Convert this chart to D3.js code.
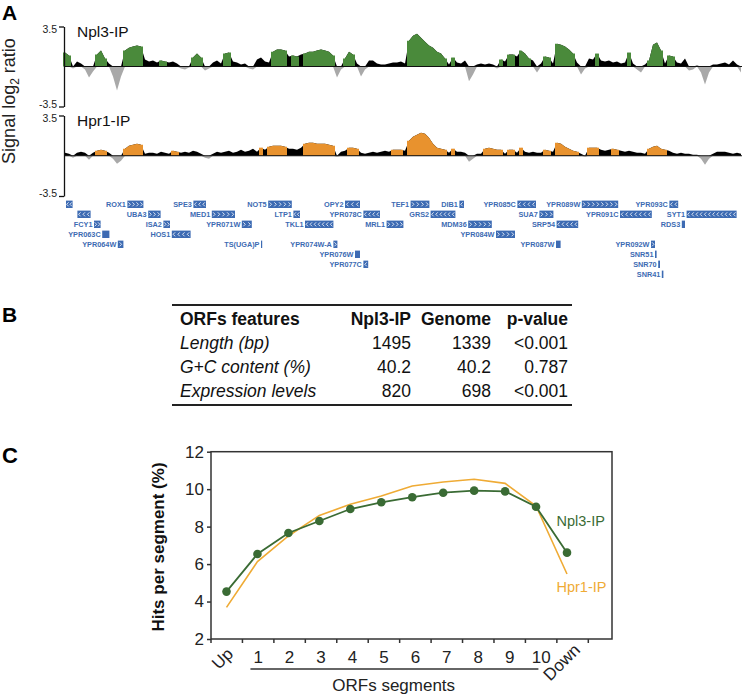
<!DOCTYPE html>
<html><head><meta charset="utf-8">
<script src="https://cdn.jsdelivr.net/npm/d3@7"></script>
<style>body{margin:0;background:#fff}svg{display:block;font-family:"Liberation Sans",Arial,sans-serif}</style>
</head><body><svg id="c" width="742" height="696"></svg>
<script>
// ---------- Panel A data (signal log2 ratio per genomic bin) ----------
const npl3Signal = [1.22,0.96,-0.17,0.43,0.26,-0.26,-0.96,-0.43,1.04,1.39,0.70,0.26,-0.87,-2.09,-0.87,1.39,1.65,1.74,1.83,1.74,
0.61,0.43,0.52,0.35,0.52,0.43,0.35,0.43,0.26,-0.17,-0.26,-0.09,0.78,1.13,0.78,-0.35,-0.17,0.35,0.52,0.26,
1.13,1.22,0.43,0.35,0.17,0.26,-0.17,-0.26,0.61,0.78,0.43,0.35,1.30,1.48,1.48,1.39,0.87,0.96,0.87,1.04,
1.13,1.30,1.30,1.39,1.48,1.39,1.30,0.96,-0.96,-0.26,0.70,1.30,1.04,0.26,-0.87,-0.26,0.52,0.52,0.26,0.17,
0.17,0.26,0.35,0.35,0.43,0.26,2.26,2.70,2.87,2.52,2.17,1.83,1.65,1.30,1.13,0.70,0.17,0.78,0.35,0.26,
0.52,-1.30,-0.70,0.17,0.26,0.17,0.26,0.17,-0.17,0.61,0.43,1.04,1.04,0.87,1.39,1.13,0.70,0.52,-0.52,0.26,
0.87,0.78,0.26,2.00,1.91,1.74,1.48,1.13,0.35,-0.70,-0.17,0.70,0.61,1.13,0.52,0.43,0.52,0.35,0.43,0.26,
0.35,1.22,0.26,-0.26,-0.52,0.17,0.52,1.91,2.09,1.39,0.26,0.96,0.87,0.35,0.26,0.70,-0.35,-0.26,0.09,-0.52,
-1.57,-0.52,0.17,0.17,0.26,0.35,0.17,0.52,0.17,-0.52];
const npl3Enriched = [[0,1],[8,10],[15,19],[24,25],[32,34],[40,41],[52,55],[57,58],[60,67],[70,72],[86,95],[97,97],
[109,109],[111,112],[114,116],[120,121],[123,127],[133,133],[141,141],[146,149],[151,152]];
const hpr1Signal = [0.26,0.17,-0.17,0.26,0.35,0.26,-0.35,0.26,0.43,0.52,0.43,0.26,-0.26,-0.70,-0.43,0.61,0.87,0.96,1.04,0.96,
0.17,0.26,0.26,0.17,0.35,0.26,0.17,0.43,0.35,0.26,0.35,0.26,0.43,0.35,0.17,-0.17,-0.26,0.17,0.35,0.26,
0.35,0.43,0.26,0.35,0.52,0.35,0.43,0.61,0.35,0.70,0.52,0.78,0.87,0.87,0.87,0.78,0.61,0.61,0.52,0.70,
1.04,1.13,1.13,1.04,1.04,1.04,0.96,0.87,-0.09,0.35,0.43,0.70,0.70,0.61,0.26,0.17,0.26,0.35,0.26,0.35,
0.43,0.35,0.52,0.52,0.52,0.43,1.30,1.65,1.83,2.00,1.91,1.57,1.04,0.70,0.61,0.52,0.26,0.61,0.35,0.35,
0.26,-0.52,-0.26,0.17,0.17,0.61,0.70,0.61,0.52,0.52,0.17,0.52,0.52,0.26,0.70,0.35,0.26,0.35,0.26,0.26,
0.52,0.43,0.35,1.13,1.04,0.78,0.61,0.43,0.35,0.17,-0.09,0.70,0.70,0.70,0.52,0.43,0.52,0.61,0.52,0.43,
0.35,0.43,0.35,0.26,0.26,0.17,0.61,0.78,0.87,0.61,0.52,0.43,0.26,0.17,0.26,0.17,0.17,0.09,0.09,-0.26,
-0.78,-0.26,0.17,0.35,0.35,0.35,0.26,0.17,0.26,0.17];
const hpr1Enriched = [[8,10],[15,19],[27,28],[49,49],[51,55],[60,67],[71,73],[82,84],[86,95],[97,97],[105,109],
[111,112],[114,114],[120,121],[123,128],[131,133],[137,138],[146,150]];
const trackTicks = [-3.5, 3.5];
// genes: [name, start, end, strand, row]  (positions in the same bin units as the signal)
const genes = [
["",0.25,1.9,"-",0],["ROX1",15.6,19.6,"+",0],["SPE3",32.1,35.25,"-",0],["NOT5",50.8,56.7,"+",0],["OPY2",70,73.75,"-",0],
["TEF1",86.4,91.1,"+",0],["DIB1",98.6,99.75,"-",0],["YPR085C",113.1,117.75,"-",0],["YPR089W",129.2,138.3,"+",0],["YPR093C",151.1,153.3,"-",0],
["",3.1,6.4,"-",1],["UBA3",20.8,23.9,"+",1],["MED1",36.7,42.5,"+",1],["LTP1",57.1,58.75,"-",1],["YPR078C",74.6,78.75,"-",1],
["GRS2",91.4,97.6,"-",1],["SUA7",118.6,122.1,"+",1],["YPR091C",138.75,146.7,"-",1],["SYT1",155.4,167.9,"-",1],
["FCY1",7.25,8.9,"+",2],["ISA2",24.6,26.25,"+",2],["YPR071W",44.2,46.7,"+",2],["TKL1",60,67.1,"-",2],["MRL1",80.4,84.6,"+",2],
["MDM36",100.8,106.7,"+",2],["SRP54",122.9,128.3,"-",2],["RDS3",154.2,155,"",2],
["YPR063C",9.3,11.1,"",3],["HOS1",26.7,31.4,"-",3],["YPR084W",107.75,112.5,"+",3],
["YPR064W",13.2,14.6,"+",4],["TS(UGA)P",49,49.3,"",4],["YPR074W-A",67.1,68.1,"+",4],["YPR087W",122.75,123.9,"",4],["YPR092W",146.5,147.5,"+",4],
["YPR076W",72.5,73.75,"",5],["SNR51",147.5,147.9,"",5],
["YPR077C",74.6,75.8,"-",6],["SNR70",148.3,148.75,"",6],
["SNR41",149.2,149.6,"",7]
];
// ---------- Panel B data ----------
const tableHeader = ["ORFs features","Npl3-IP","Genome","p-value"];
const tableRows = [["Length (bp)","1495","1339","<0.001"],["G+C content (%)","40.2","40.2","0.787"],["Expression levels","820","698","<0.001"]];
// ---------- Panel C data ----------
const segments = ["Up","1","2","3","4","5","6","7","8","9","10","Down"];
const npl3Hits = [4.53,6.54,7.66,8.30,8.94,9.30,9.57,9.81,9.92,9.88,9.06,6.61];
const hpr1Hits = [3.69,6.13,7.50,8.60,9.19,9.63,10.17,10.38,10.53,10.31,9.10,5.47];
const hitsTicks = [2,4,6,8,10,12];

const svg = d3.select('#c');
const GREEN = '#4a8a3b', ORANGE = '#e8922e', GRAY = '#a9a9a9', BLUE = '#3d6bb3';

// ================= Panel A =================
svg.append('text').attr('x',2).attr('y',20).attr('font-size',21).attr('font-weight','bold').text('A');
const sl = svg.append('text').attr('transform','translate(14.5,101) rotate(-90)').attr('text-anchor','middle').attr('font-size',18).attr('fill','#222');
sl.append('tspan').text('Signal log');
sl.append('tspan').text('2').attr('font-size',12).attr('dy',4);
sl.append('tspan').text(' ratio').attr('dy',-4);

const xA = d3.scaleLinear().domain([0, npl3Signal.length]).range([65, 745]);

function drawTrack(sig, enr, color, yRange, label) {
  const y = d3.scaleLinear().domain([-3.5, 3.5]).range(yRange);
  const g = svg.append('g');
  const pts = sig.map((v,i)=>[i,v]);
  const area = d3.area().x(d=>xA(d[0])).y0(y(0));
  g.append('path').attr('d', area.y1(d=>y(Math.max(0,d[1])))(pts)).attr('fill','#000');
  g.append('path').attr('d', area.y1(d=>y(Math.min(0,d[1])))(pts)).attr('fill',GRAY);
  enr.forEach(([s,e])=>{
    const seg = [[s-0.5, sig[s]]].concat(d3.range(s,e+1).map(i=>[i,sig[i]])).concat([[e+0.5, sig[e]]]);
    g.append('path').attr('d', d3.area().x(d=>xA(d[0])).y0(y(0)).y1(d=>y(Math.max(0,d[1])))(seg)).attr('fill',color);
  });
  g.append('line').attr('x1',64).attr('x2',742).attr('y1',y(0)).attr('y2',y(0)).attr('stroke','#111').attr('stroke-width',1);
  const ax = svg.append('g').attr('transform','translate(64,0)')
    .call(d3.axisLeft(y).tickValues(trackTicks).tickSize(5).tickSizeOuter(0).tickPadding(2).tickFormat(d=>String(d)));
  ax.select('.domain').attr('stroke','#111').attr('stroke-width',1.3);
  ax.selectAll('.tick line').attr('stroke','#111').attr('stroke-width',1.3);
  ax.selectAll('text').attr('font-size',10.5).attr('font-family','"Liberation Sans",Arial,sans-serif').attr('fill','#222')
    .attr('dy', d => d > 0 ? '0.55em' : '0.05em');
  svg.append('text').attr('x',77).attr('y',y(3.5)+10.5).attr('font-size',15.5).attr('fill','#111').text(label);
}
drawTrack(npl3Signal, npl3Enriched, GREEN, [106.5, 26.5], 'Npl3-IP');
drawTrack(hpr1Signal, hpr1Enriched, ORANGE, [196, 115.5], 'Hpr1-IP');

// genes
const rowY = d3.scaleLinear().domain([0,1]).range([204.3, 214.3]);
const gg = svg.append('g');
genes.forEach(([name,s,e,strand,row])=>{
  const x0 = xA(s), x1 = Math.max(xA(e), xA(s)+1.2), yc = rowY(row), w = x1-x0;
  gg.append('rect').attr('x',x0).attr('y',yc-3.7).attr('width',w).attr('height',7.4).attr('fill',BLUE);
  if (strand) {
    const n = Math.max(1, Math.round(w/4.3)), step = w/n;
    for (let k=0;k<n;k++){
      const cx = x0 + (k+0.5)*step, d = strand==='+' ? 1 : -1;
      gg.append('path').attr('d',`M${cx-d*1},${yc-2}L${cx+d*1},${yc}L${cx-d*1},${yc+2}`)
        .attr('fill','none').attr('stroke','#fff').attr('stroke-width',0.8);
    }
  }
  if (name) gg.append('text').attr('x',x0-1.5).attr('y',yc+2.6).attr('text-anchor','end')
      .attr('font-size',7.3).attr('fill',BLUE).attr('font-family','"Liberation Sans Narrow","Liberation Sans",Arial,sans-serif').attr('font-weight','bold').text(name);
});

// ================= Panel B =================
svg.append('text').attr('x',2).attr('y',322).attr('font-size',21).attr('font-weight','bold').text('B');
const colX = d3.scaleOrdinal().domain(tableHeader).range([180, 411, 491, 568]);
const tableTop = 305, rowH = 24;
const tb = svg.append('g').attr('font-size',17.5).attr('fill','#111');
tb.append('line').attr('x1',172).attr('x2',572).attr('y1',tableTop).attr('y2',tableTop).attr('stroke','#222').attr('stroke-width',1.8);
tableHeader.forEach((h,j)=>{
  tb.append('text').attr('x',colX(h)).attr('y',tableTop+19.5).attr('text-anchor', j===0?'start':'end').attr('font-weight','bold').text(h);
});
tableRows.forEach((r,i)=>{
  r.forEach((c,j)=>{
    tb.append('text').attr('x',colX(tableHeader[j])).attr('y',tableTop+19.5+(i+1)*rowH)
      .attr('text-anchor', j===0?'start':'end').attr('font-style', j===0?'italic':'normal').text(c);
  });
});
tb.append('line').attr('x1',172).attr('x2',572).attr('y1',tableTop+100).attr('y2',tableTop+100).attr('stroke','#222').attr('stroke-width',1.8);

// ================= Panel C =================
svg.append('text').attr('x',2).attr('y',463).attr('font-size',22).attr('font-weight','bold').text('C');
const xBand = d3.scaleBand().domain(segments).range([211, 588.3]);
const xPt = d3.scalePoint().domain(segments).range([226.5, 567]);
const yC = d3.scaleLinear().domain([2,12]).range([639, 451.7]);
const cg = svg.append('g');
cg.append('rect').attr('x',211).attr('y',yC(12)).attr('width',401).attr('height',yC(2)-yC(12))
  .attr('fill','none').attr('stroke','#333').attr('stroke-width',1.5);
const yAx = cg.append('g').attr('transform','translate(211,0)')
  .call(d3.axisLeft(yC).tickValues(hitsTicks).tickSize(4).tickPadding(3));
yAx.select('.domain').remove();
yAx.selectAll('.tick line').attr('stroke','#333').attr('stroke-width',1.5);
yAx.selectAll('text').attr('font-size',17).attr('font-family','"Liberation Sans",Arial,sans-serif').attr('fill','#222');
// x ticks at band edges
d3.range(segments.length+1).forEach(i=>{
  const x = xBand.range()[0] + i*xBand.step();
  cg.append('line').attr('x1',x).attr('x2',x).attr('y1',yC(2)).attr('y2',yC(2)+4).attr('stroke','#333').attr('stroke-width',1.5);
});
segments.forEach(s=>{
  const cx = xBand(s)+xBand.bandwidth()/2;
  if (s==='Up') {
    cg.append('text').attr('transform',`translate(${cx+7.5},655) rotate(-45)`).attr('text-anchor','end')
      .attr('font-size',17).attr('fill','#222').text(s);
  } else if (s==='Down') {
    cg.append('text').attr('transform',`translate(${cx+8.5},651) rotate(-45)`).attr('text-anchor','end')
      .attr('font-size',17).attr('fill','#222').text(s);
  } else {
    cg.append('text').attr('x',cx).attr('y',662.5).attr('text-anchor','middle').attr('font-size',17).attr('fill','#222').text(s);
  }
});
cg.append('line').attr('x1',xBand('1')+8).attr('x2',xBand('10')+13).attr('y1',669).attr('y2',669).attr('stroke','#333').attr('stroke-width',1.3);
cg.append('text').attr('x',393.7).attr('y',691).attr('text-anchor','middle').attr('font-size',17).attr('fill','#222').text('ORFs segments');
cg.append('text').attr('transform','translate(164,547) rotate(-90)').attr('text-anchor','middle')
  .attr('font-size',17).attr('font-weight','bold').attr('fill','#111').text('Hits per segment (%)');

const LG = '#3a6b34', LO = '#efab35';
const line = d3.line().x((d,i)=>xPt(segments[i])).y(d=>yC(d));
cg.append('path').attr('d',line(hpr1Hits)).attr('fill','none').attr('stroke',LO).attr('stroke-width',1.6);
cg.append('path').attr('d',line(npl3Hits)).attr('fill','none').attr('stroke',LG).attr('stroke-width',1.8);
cg.selectAll('circle').data(npl3Hits).enter().append('circle')
  .attr('cx',(d,i)=>xPt(segments[i])).attr('cy',d=>yC(d)).attr('r',4.3).attr('fill',LG);
cg.append('text').attr('x',556.5).attr('y',526).attr('font-size',14.5).attr('fill',LG).text('Npl3-IP');
cg.append('text').attr('x',556.5).attr('y',592).attr('font-size',14.5).attr('fill',LO).text('Hpr1-IP');
</script></body></html>
